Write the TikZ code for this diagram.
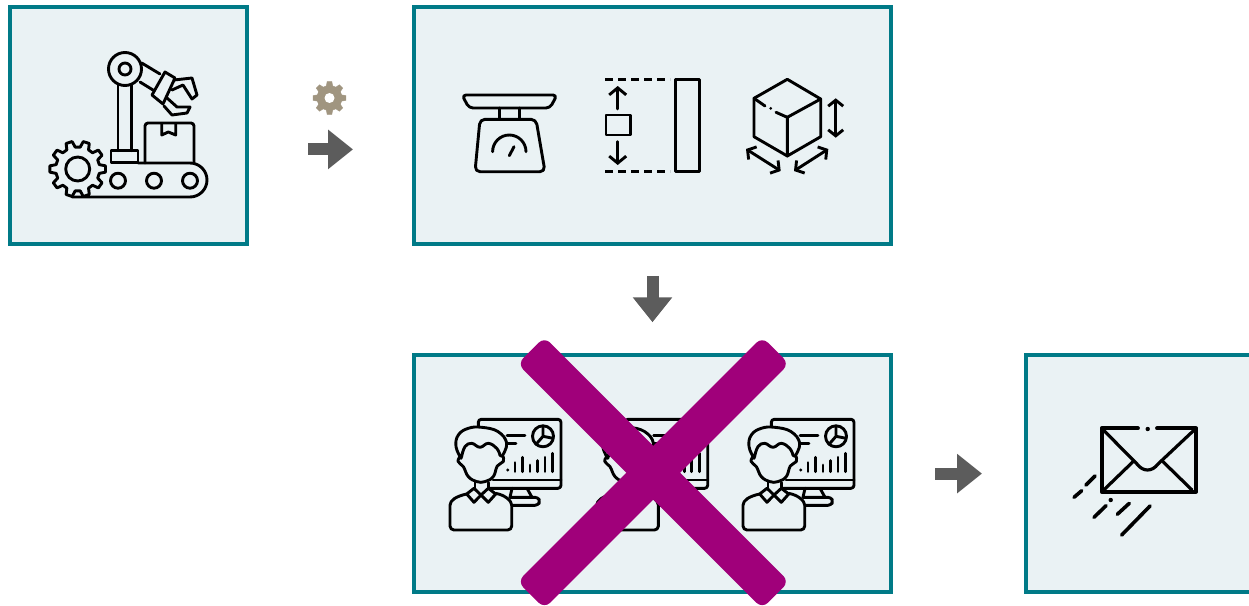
\documentclass[tikz,border=0pt]{standalone}
\usetikzlibrary{arrows.meta,calc}
\definecolor{panelfill}{HTML}{EAF2F4}
\definecolor{panelline}{HTML}{007A87}
\definecolor{arrowgrey}{HTML}{5C5C5C}
\definecolor{gearbrown}{HTML}{A09580}
\definecolor{crossmagenta}{HTML}{A0007A}
\tikzset{
  panel/.style={rectangle,draw=panelline,fill=panelfill,line width=4pt,minimum height=236.7pt,inner sep=0pt},
  flowarrow/.style={draw=arrowgrey,line width=12pt,-{Triangle[length=25pt,width=38pt,fill=arrowgrey]}},
  iconline/.style={draw=black,line width=2.9pt,line cap=round,line join=round},
  iconfill/.style={iconline,fill=panelfill},
  crossbar/.style={rectangle,fill=crossmagenta,minimum width=346pt,minimum height=38pt,rounded corners=8pt,inner sep=0pt},
  sizetip/.style={{Straight Barb[length=6pt,width=15pt]}-{Straight Barb[length=6pt,width=15pt]}},
  sizeend/.style={-{Straight Barb[length=7pt,width=17pt]}},
  pics/gearwheel/.style n args={3}{code={
    \pgfmathsetmacro\gstep{360/#1}
    \draw[pic actions] (0.68*\gstep:#3)
      \foreach \k in {1,...,#1}{
        -- ({(\k-.32)*\gstep}:#3) -- ({(\k-.18)*\gstep}:#2)
        -- ({(\k+.18)*\gstep}:#2) -- ({(\k+.32)*\gstep}:#3)
      } -- cycle;
  }},
  pics/analyst/.style={code={
    \draw[iconline,rounded corners=3pt] (-1.7,-46) -- (-1.7,-54) -- (81,-54) -- (81,15) -- (10,15);
    \draw[iconline] (13,6.7) -- (81,6.7);
    \draw[iconline] (32,15) -- (30,24) (47,15) -- (52,24);
    \draw[iconline,rounded corners=3pt] (30,24) -- (58,24) -- (60,28) -- (58,32) -- (30,32);
    \draw[iconline] (27,-38) -- (45,-38) (27,-30) -- (36,-30);
    \draw[iconline] (63,-37) circle[radius=10.5];
    \draw[iconline] (63,-47) -- (63,-37) -- (73,-35) (63,-37) -- (56,-29);
    \foreach \bx/\bt in {35/-10.7,42.7/-16,50/-8.3,57.7/-12.7,65/-16,72.7/-20}
      \draw[iconline] (\bx,-1.7) -- (\bx,\bt);
    \fill (27.7,-3.3) circle[radius=1.6];
    \draw[iconfill,rounded corners=4pt] (15.7,20) .. controls (26,22) and (31.7,28) .. (31.7,36)
      -- (31.7,56.7) -- (-30,56.7) -- (-30,36) .. controls (-30,27) and (-24,23) .. (-13.3,20.7);
    \draw[iconfill] (-5,9.3) -- (-5,15.7) (8.3,9.3) -- (8.3,15.7);
    \draw[iconfill] (-13.3,20.7) -- (-6,15) -- (1,21.7) -- (-6,29) -- cycle;
    \draw[iconfill] (1,21.7) -- (8.3,15) -- (15.7,20.7) -- (8.3,29) -- cycle;
    \draw[iconfill] plot[smooth,tension=.7] coordinates {(-19,-18) (-22,-12) (-16.7,-6.7)
      (-11.7,3.3) (-3.3,8.3) (5,8.3) (13.3,3.3) (17.3,-7.3) (23.3,-11.7) (23,-17)};
    \draw[iconfill] plot[smooth,tension=.7] coordinates {(-19,-15) (-24,-26.7) (-21.7,-38.3)
      (-11.7,-45) (1.7,-46) (18,-41.7) (26.7,-30) (22,-17)}
      -- plot[smooth,tension=.7] coordinates {(20,-18) (16.7,-25) (8.3,-30)
      (0,-26) (-8.3,-30) (-15,-26.7) (-18.3,-17)} -- cycle;
  }}
}
\begin{document}
\begin{tikzpicture}[x=1pt,y=-1pt]
  \clip (0,0) rectangle (1249,605);
  \node[panel,minimum width=237pt] (robotbox) at (128.5,125.4) {};
  \node[panel,minimum width=477pt] (sizebox) at (652.5,125.4) {};
  \node[panel,minimum width=477pt] (staffbox) at (652.5,473.6) {};
  \node[panel,minimum width=237pt] (mailbox) at (1144.5,473.6) {};

  \draw[flowarrow,shorten <=59pt,shorten >=59pt] ([yshift=-24pt]robotbox.east) -- ([yshift=-24pt]sizebox.west);
  \draw[flowarrow,shorten <=30pt,shorten >=31pt] (sizebox.south) -- (staffbox.north);
  \draw[flowarrow,shorten <=42pt,shorten >=42pt] (staffbox.east) -- (mailbox.west);
  \pic[draw=gearbrown,fill=gearbrown,line width=.5pt] at (329.5,98) {gearwheel={8}{16.5}{12.5}};
  \fill[white] (329.5,98) circle[radius=5];

  % robot arm on the belt
  \draw[iconline] (118,85) -- (118,150.7) (131.7,85) -- (131.7,150.7);
  \draw[iconline] (125,69) circle[radius=16.5] (125,69) circle[radius=6];
  \draw[iconline] (141.7,63) -- (160,74) (140,82) -- (153,90);
  \draw[iconline] (165,72) -- (175,78) -- (163,104) -- (152,95) -- cycle;
  \draw[iconline] (174,80) -- (192,78) -- (197,95) -- (192,99) -- (183,85) -- (172,90);
  \draw[iconline] (167,98) -- (177,107) -- (190,107) -- (187,113) -- (172,115) -- (164,106);
  \draw[iconline,rounded corners=3pt] (145,163) -- (145,123) -- (194,123) -- (194,163);
  \draw[iconline] (161.7,124) -- (161.7,135) -- (168.3,132) -- (175.7,135) -- (175.7,124);
  \draw[iconline] (111,150.7) rectangle (138,162.7);
  \draw[iconline] (138,163) -- (190,163) arc[start angle=-90,end angle=90,radius=17] -- (72,197);
  \foreach \rx in {118,154,190}
    \draw[iconline] (\rx,180.7) circle[radius=7.5];
  \pic[iconfill] at (77.7,169) {gearwheel={10}{28}{22}};
  \draw[iconline] (77.7,169) circle[radius=12];

  % kitchen scale
  \draw[iconline,rounded corners=4pt] (462,95) -- (557,95) -- (550,108) -- (469,108) -- cycle;
  \draw[iconline] (499.3,108) -- (499.3,119) (519.3,108) -- (519.3,119);
  \draw[iconline,rounded corners=5pt] (475,171.7) -- (480,119.3) -- (536,119.3) -- (545,171.7) -- cycle;
  \draw[iconline] (492.6,151.7) arc[start angle=180,end angle=360,radius=16.7];
  \draw[iconline] (509.3,155.7) -- (514,146.7);

  % bar and small square
  \draw[iconline,line cap=butt,dash pattern=on 8pt off 5pt] (605,79.3) -- (670,79.3) (605,171.7) -- (670,171.7);
  \draw[iconline] (675.7,79.3) rectangle (699.3,171.7);
  \draw[iconline] (606,115) rectangle (630.7,135);
  \draw[iconline,sizeend] (617.7,109) -- (617.7,86);
  \draw[iconline,sizeend] (617.7,141.7) -- (617.7,165);

  % cube
  \draw[iconline] (787.3,79.3) -- (820.7,99) -- (820.7,136.7) -- (787.3,156) -- (754,136.7) -- (754,98.3) -- cycle;
  \draw[iconline] (820.7,99) -- (787.3,117.3) -- (787.3,156);
  \draw[iconline] (754,98.3) -- (765,106) (776,112.3) -- (787.3,117.3);
  \fill (770.7,108.3) circle[radius=1.5];
  \draw[iconline,sizetip] (835.7,98.3) -- (835.7,137.7);
  \draw[iconline,sizetip] (746,149) -- (780.7,171);
  \draw[iconline,sizetip] (828.3,149) -- (794,171);

  \foreach \ax in {480,626.7,773}
    \pic at (\ax,473.3) {analyst};

  % envelope
  \draw[iconline,line width=3.8pt] (1138,428.3) -- (1101.7,428.3) -- (1101.7,491.7) -- (1196,491.7) -- (1196,428.3) -- (1157,428.3);
  \fill (1147.7,429) circle[radius=2.2];
  \draw[iconline,line width=3.2pt] (1101.7,428.3) -- (1137,464) .. controls (1143,472) and (1152,472) .. (1158,464) -- (1196,428.3);
  \draw[iconline,line width=3.2pt] (1103,490.7) -- (1133,461.7) (1192,490) -- (1163,461.7);
  \draw[iconline,line width=3.6pt] (1074,497.3) -- (1081.7,490.7) (1086,485) -- (1095,476)
    (1094,517.3) -- (1106,505.7) (1117.3,514.3) -- (1129.3,503.3) (1121.7,535) -- (1150,506);
  \fill (1110.7,500) circle[radius=2.2];

  \node[crossbar,rotate=45] (crossa) at (653.3,472.7) {};
  \node[crossbar,rotate=-45] (crossb) at (653.3,472.7) {};
\end{tikzpicture}
\end{document}
